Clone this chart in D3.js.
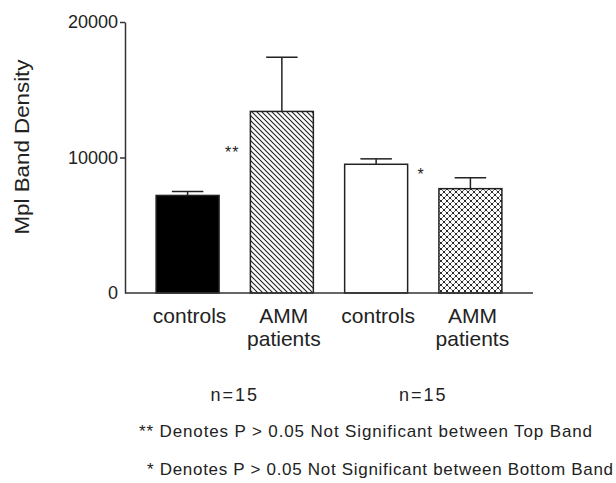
<!DOCTYPE html>
<html>
<head>
<meta charset="utf-8">
<script src="https://cdn.jsdelivr.net/npm/d3@7"></script>
<style>
  html, body { margin: 0; padding: 0; background: #fff; }
  svg { display: block; font-family: "Liberation Sans", Arial, sans-serif; }
</style>
</head>
<body>
<svg id="chart" width="616" height="483"></svg>
<script>
// ---- data ----
const categories = ["controls|top", "AMM patients|top", "controls|bottom", "AMM patients|bottom"];
const labelLines = [["controls"], ["AMM", "patients"], ["controls"], ["AMM", "patients"]];
const means = [7200, 13400, 9500, 7700];
const errors = [300, 4000, 400, 800];
const fills = ["solid", "hatch", "open", "cross"];
const yTicks = [0, 10000, 20000];
const groupLabels = ["n=15", "n=15"];
const sigMarks = ["**", "*"];
const footnotes = ["** Denotes P > 0.05 Not Significant between Top Band",
                   "* Denotes P > 0.05 Not Significant between Bottom Band"];
const yTitle = "Mpl Band Density";

// ---- layout ----
const svg = d3.select("#chart");
const axisX = 125, plotRight = 533, yBottom = 293, yTop = 22;
const x = d3.scaleBand().domain(categories).range([axisX, plotRight]).paddingInner(0.332).paddingOuter(0.33);
const y = d3.scaleLinear().domain([0, 20000]).range([yBottom, yTop]);
const ink = "#222";

// patterns
const defs = svg.append("defs");
const ph = defs.append("pattern").attr("id", "hatch").attr("patternUnits", "userSpaceOnUse")
  .attr("width", 5).attr("height", 5);
ph.append("rect").attr("width", 5).attr("height", 5).attr("fill", "#fff");
ph.append("path").attr("d", "M-1,-1 L6,6 M-1,4 L1,6 M4,-1 L6,1")
  .attr("stroke", "#222").attr("stroke-width", 1.1);

const pc = defs.append("pattern").attr("id", "cross").attr("patternUnits", "userSpaceOnUse")
  .attr("width", 6).attr("height", 6);
pc.append("rect").attr("width", 6).attr("height", 6).attr("fill", "#fff");
pc.append("path").attr("d", "M0,0 L6,6 M6,0 L0,6")
  .attr("stroke", "#666").attr("stroke-width", 0.9);
pc.append("rect").attr("x", 2.2).attr("y", 2.2).attr("width", 1.6).attr("height", 1.6).attr("fill", "#000");
pc.append("rect").attr("x", -0.8).attr("y", -0.8).attr("width", 1.6).attr("height", 1.6).attr("fill", "#000");
pc.append("rect").attr("x", 5.2).attr("y", -0.8).attr("width", 1.6).attr("height", 1.6).attr("fill", "#000");
pc.append("rect").attr("x", -0.8).attr("y", 5.2).attr("width", 1.6).attr("height", 1.6).attr("fill", "#000");
pc.append("rect").attr("x", 5.2).attr("y", 5.2).attr("width", 1.6).attr("height", 1.6).attr("fill", "#000");

const fillOf = f => f === "solid" ? "#000" : f === "hatch" ? "url(#hatch)" : f === "cross" ? "url(#cross)" : "#fff";

// error bars (drawn first so the bar outline overlays)
const bw = x.bandwidth();
const eb = svg.append("g").attr("stroke", ink).attr("stroke-width", 1.5);
categories.forEach((c, i) => {
  const cx = x(c) + bw / 2;
  eb.append("line").attr("x1", cx).attr("x2", cx).attr("y1", y(means[i])).attr("y2", y(means[i] + errors[i]));
  eb.append("line").attr("x1", cx - bw / 4).attr("x2", cx + bw / 4)
    .attr("y1", y(means[i] + errors[i])).attr("y2", y(means[i] + errors[i]));
});

// bars
svg.append("g").selectAll("rect").data(categories).join("rect")
  .attr("x", d => x(d)).attr("width", bw)
  .attr("y", (d, i) => y(means[i])).attr("height", (d, i) => y(0) - y(means[i]))
  .attr("fill", (d, i) => fillOf(fills[i]))
  .attr("stroke", ink).attr("stroke-width", 1.5);

// y axis
const yAxis = d3.axisLeft(y).tickValues(yTicks.filter(v => v !== 0)).tickSize(5).tickSizeOuter(0).tickFormat(d3.format("d"));
const gy = svg.append("g").attr("transform", `translate(${axisX},0)`).call(yAxis);
gy.select(".domain").attr("stroke", "#333").attr("stroke-width", 1.5);
gy.selectAll(".tick line").attr("stroke", "#333").attr("stroke-width", 1.5);
gy.selectAll(".tick text").attr("font-size", 18).attr("fill", "#222").attr("x", -7)
  .attr("font-family", "Liberation Sans, Arial, sans-serif");
// zero label
svg.append("text").attr("x", axisX - 7).attr("y", y(0)).attr("dy", "0.36em")
  .attr("text-anchor", "end").attr("font-size", 18).attr("fill", "#222").text(d3.format("d")(yTicks[0]));

// baseline
svg.append("line").attr("x1", axisX).attr("x2", plotRight).attr("y1", y(0)).attr("y2", y(0))
  .attr("stroke", "#333").attr("stroke-width", 1.5);

// y title
svg.append("text").attr("transform", `translate(29,147) rotate(-90)`)
  .attr("text-anchor", "middle").attr("font-size", 20).attr("fill", "#222")
  .attr("textLength", 175).attr("lengthAdjust", "spacingAndGlyphs").text(yTitle);

// category labels
categories.forEach((c, i) => {
  const cx = x(c) + bw / 2 + 2;
  labelLines[i].forEach((ln, j) => {
    svg.append("text").attr("x", cx).attr("y", 323 + j * 23).attr("text-anchor", "middle")
      .attr("font-size", 21).attr("fill", "#222").text(ln);
  });
});

// significance marks
svg.append("text").attr("x", x(categories[1]) - 11).attr("y", 158).attr("text-anchor", "end")
  .attr("font-size", 16).attr("fill", "#222").attr("letter-spacing", 1).text(sigMarks[0]);
svg.append("text").attr("x", x(categories[2]) + bw + 10).attr("y", 180).attr("text-anchor", "start")
  .attr("font-size", 16).attr("fill", "#222").text(sigMarks[1]);

// n labels
[[0, 1], [2, 3]].forEach((pair, k) => {
  const cx = (x(categories[pair[0]]) + x(categories[pair[1]]) + bw) / 2;
  svg.append("text").attr("x", cx).attr("y", 401).attr("text-anchor", "middle")
    .attr("font-size", 18).attr("fill", "#222").attr("letter-spacing", 2).text(groupLabels[k]);
});

// footnotes
svg.append("text").attr("x", 139).attr("y", 437).attr("font-size", 17).attr("fill", "#222")
  .attr("textLength", 453).attr("lengthAdjust", "spacing").text(footnotes[0]);
svg.append("text").attr("x", 147).attr("y", 475).attr("font-size", 17).attr("fill", "#222")
  .attr("textLength", 466).attr("lengthAdjust", "spacing").text(footnotes[1]);
</script>
</body>
</html>
